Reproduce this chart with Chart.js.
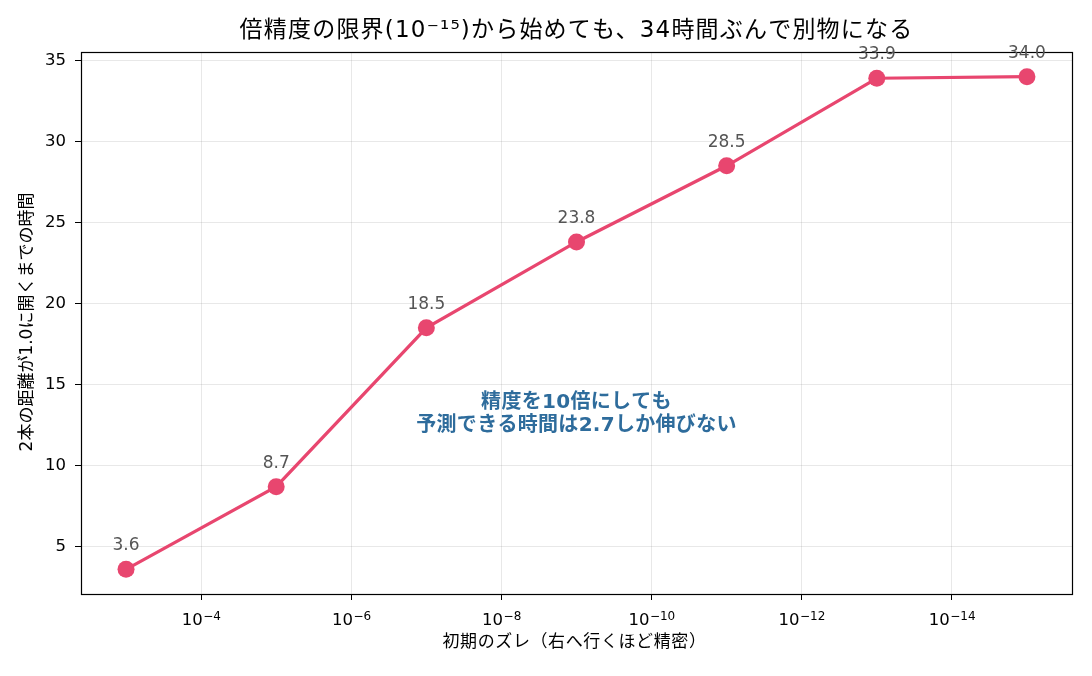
<!DOCTYPE html>
<html>
<head>
<meta charset="utf-8">
<script src="https://cdn.jsdelivr.net/npm/chart.js@4.4.1/dist/chart.umd.min.js"></script>
<style>
html,body{margin:0;padding:0;background:#fff;}
#wrap{width:1092px;height:676px;}
</style>
</head>
<body>
<div id="wrap"><canvas id="c" width="1092" height="676"></canvas></div>
<script>
const initialOffsets = [1e-3, 1e-5, 1e-7, 1e-9, 1e-11, 1e-13, 1e-15];
const hoursToSeparate = [3.6, 8.7, 18.5, 23.8, 28.5, 33.9, 34.0];
const xTickExponents = [-4, -6, -8, -10, -12, -14];
const yTickValues = [5, 10, 15, 20, 25, 30, 35];
const titleText = '倍精度の限界(10⁻¹⁵)から始めても、34時間ぶんで別物になる';
const xAxisTitle = '初期のズレ（右へ行くほど精密）';
const yAxisTitle = '2本の距離が1.0に開くまでの時間';
const noteLines = ['精度を10倍にしても', '予測できる時間は2.7しか伸びない'];
const notePosition = {x: 1e-9, y: 13.2};

const LINE_COLOR = '#e8466f';
const MIXED = '"DejaVu Sans", "Noto Sans CJK JP", sans-serif';
const NUM = '"DejaVu Sans", sans-serif';

function setSpacing(ctx, px){ if ('letterSpacing' in ctx) ctx.letterSpacing = px + 'px'; }

const overlay = {
  id: 'overlay',
  afterDraw(chart){
    const ctx = chart.ctx, a = chart.chartArea;
    const xs = chart.scales.x, ys = chart.scales.y;
    const midX = (a.left + a.right) / 2;
    ctx.save();
    // frame
    ctx.strokeStyle = '#000';
    ctx.lineWidth = 1.2;
    ctx.strokeRect(Math.round(a.left)+0.5, Math.round(a.top)+0.5, Math.round(a.right-a.left), Math.round(a.bottom-a.top));

    // x tick labels: 10 with superscript exponent
    ctx.fillStyle = '#000';
    ctx.textBaseline = 'alphabetic';
    ctx.textAlign = 'left';
    xTickExponents.forEach(e => {
      const px = xs.getPixelForValue(Math.pow(10, e));
      const base = '10', sup = '\u2212' + Math.abs(e);
      ctx.font = '16.5px ' + NUM;
      const wb = ctx.measureText(base).width;
      ctx.font = '12px ' + NUM;
      const ws = ctx.measureText(sup).width;
      const x0 = px - (wb + ws) / 2;
      ctx.font = '16.5px ' + NUM;
      ctx.fillText(base, x0, a.bottom + 31);
      ctx.font = '12px ' + NUM;
      ctx.fillText(sup, x0 + wb + 0.5, a.bottom + 26);
    });

    // value labels
    ctx.fillStyle = '#555555';
    ctx.font = '17px ' + NUM;
    ctx.textAlign = 'center';
    ctx.textBaseline = 'alphabetic';
    initialOffsets.forEach((x, i) => {
      const px = xs.getPixelForValue(x), py = ys.getPixelForValue(hoursToSeparate[i]);
      ctx.fillText(hoursToSeparate[i].toFixed(1), px, py - 19);
    });

    // title
    ctx.fillStyle = '#000';
    ctx.textBaseline = 'middle';
    ctx.font = '23px ' + MIXED;
    setSpacing(ctx, 1.2);
    ctx.fillText(titleText, midX, 31);

    // x axis title
    ctx.font = '17px ' + MIXED;
    setSpacing(ctx, 0.6);
    ctx.fillText(xAxisTitle, midX - 2, 643);

    // y axis title
    setSpacing(ctx, 0);
    ctx.save();
    ctx.translate(28, 322);
    ctx.rotate(-Math.PI / 2);
    ctx.font = '17px ' + MIXED;
    ctx.fillText(yAxisTitle, 0, 0);
    ctx.restore();

    // note
    ctx.fillStyle = '#2e6c9c';
    ctx.font = 'bold 20px ' + MIXED;
    setSpacing(ctx, 0.3);
    const cx = xs.getPixelForValue(notePosition.x), cy = ys.getPixelForValue(notePosition.y);
    ctx.fillText(noteLines[0], cx, cy - 11);
    ctx.fillText(noteLines[1], cx, cy + 12);
    ctx.restore();
  }
};

new Chart(document.getElementById('c'), {
  type: 'line',
  data: {
    datasets: [{
      data: initialOffsets.map((x, i) => ({x: x, y: hoursToSeparate[i]})),
      borderColor: LINE_COLOR,
      backgroundColor: LINE_COLOR,
      borderWidth: 3.2,
      pointRadius: 8.5,
      pointHoverRadius: 8.5,
      pointBorderWidth: 0,
      tension: 0,
      clip: false
    }]
  },
  options: {
    responsive: false,
    animation: false,
    events: [],
    layout: {padding: {top: 52, right: 20, bottom: 0, left: 0}},
    plugins: {
      legend: {display: false},
      tooltip: {enabled: false},
      title: {display: false}
    },
    scales: {
      x: {
        type: 'logarithmic',
        reverse: true,
        min: Math.pow(10, -15.6),
        max: Math.pow(10, -2.4),
        afterBuildTicks(scale){ scale.ticks = xTickExponents.map(e => ({value: Math.pow(10, e)})); },
        afterFit(scale){ scale.height = 82; },
        ticks: {display: false, autoSkip: false, maxRotation: 0},
        grid: {color: 'rgba(128,128,128,0.18)', tickColor: '#000', tickLength: 6, lineWidth: 1},
        border: {display: false}
      },
      y: {
        type: 'linear',
        min: 2.08,
        max: 35.52,
        afterBuildTicks(scale){ scale.ticks = yTickValues.map(v => ({value: v})); },
        afterFit(scale){ scale.width = 81; },
        ticks: {color: '#000', font: {family: NUM, size: 16.5}, padding: 9},
        grid: {color: 'rgba(128,128,128,0.18)', tickColor: '#000', tickLength: 6, lineWidth: 1},
        border: {display: false}
      }
    }
  },
  plugins: [overlay]
});
</script>
</body>
</html>
